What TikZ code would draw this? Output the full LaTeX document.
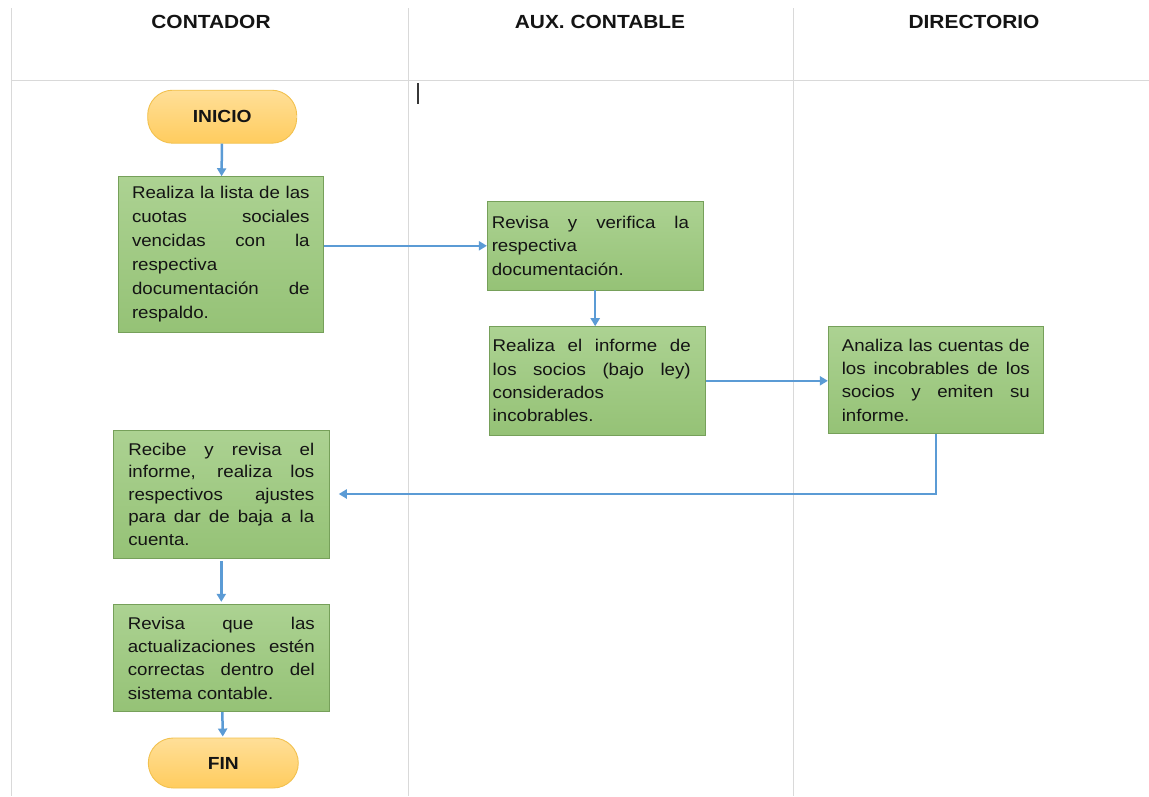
\documentclass[tikz,border=0pt]{standalone}
\usepackage{fontspec}
\setmainfont{Liberation Sans}[FakeStretch=1.10]
\usetikzlibrary{arrows.meta,calc}

\definecolor{lanegray}{HTML}{D9D9D9}
\definecolor{flowblue}{HTML}{5B9BD5}
\definecolor{greentop}{HTML}{ACD292}
\definecolor{greenbot}{HTML}{95C276}
\definecolor{greenedge}{HTML}{76A05A}
\definecolor{oratop}{HTML}{FFDF98}
\definecolor{orabot}{HTML}{FFCC5E}
\definecolor{oraedge}{HTML}{F2C14E}
\definecolor{ink}{HTML}{141414}

% one justified line of a process box
\newcommand{\jl}[1]{\makebox[\linewidth][s]{#1}\par}
% text block: width, horizontal shift, line spacing, lines
\newcommand{\boxtext}[4]{\hbox{\hspace*{#2}\parbox{#1}{\fontsize{17}{#3}\selectfont\color{ink}#4}}}

\tikzset{
  lane/.style={draw=lanegray, line width=1pt},
  header/.style={font=\fontsize{19}{21}\selectfont\bfseries, text=ink, inner sep=0pt},
  process/.style={draw=greenedge, top color=greentop, bottom color=greenbot,
    line width=0.9pt, inner sep=0pt},
  terminal/.style={draw=oraedge, top color=oratop, bottom color=orabot,
    line width=0.9pt, inner sep=0pt, rounded corners=25pt,
    font=\fontsize{17.5}{19}\selectfont\bfseries, text=ink},
  flow/.style={draw=flowblue, line width=2.5pt,
    -{Triangle[length=8pt,width=9pt]}},
}

\begin{document}
\begin{tikzpicture}[x=1pt,y=-1pt]
\useasboundingbox[fill=white] (0,0) rectangle (1149,796);

% swimlane grid
\draw[lane] (11,8) -- (11,796);
\draw[lane] (408,8) -- (408,796);
\draw[lane] (793.5,8) -- (793.5,796);
\draw[lane] (11,80) -- (1149,80);

% lane titles
\node[header] (hContador) at (211,21.5) {CONTADOR};
\node[header] (hAux) at (600,21.5) {AUX. CONTABLE};
\node[header] (hDir) at (974,21.5) {DIRECTORIO};

% text cursor mark
\draw[draw=ink!85, line width=1.4pt] (418,83) -- (418,104);

% start / end
\node[terminal, minimum width=149pt, minimum height=53pt] (inicio) at (222.2,116.7) {INICIO};
\node[terminal, minimum width=150pt, minimum height=50pt] (fin) at (223.3,763) {FIN};

% process steps
\node[process, minimum width=205pt, minimum height=155.6pt] (b1) at (220.8,254.5)
  {\boxtext{177.6pt}{0pt}{24}{%
    \jl{Realiza la lista de las}\jl{cuotas sociales}\jl{vencidas con la}%
    respectiva\par\jl{documentación de}respaldo.}};

\node[process, minimum width=215.7pt, minimum height=88.3pt] (b2) at (595.2,245.8)
  {\boxtext{197.3pt}{-9.6pt}{23.3}{%
    \jl{Revisa y verifica la}respectiva\par documentación.}};

\node[process, minimum width=215.7pt, minimum height=108.3pt] (b3) at (597.2,380.8)
  {\boxtext{198pt}{-11pt}{23.3}{%
    \jl{Realiza el informe de}\jl{los socios (bajo ley)}considerados\par incobrables.}};

\node[process, minimum width=215pt, minimum height=106.6pt] (b4) at (935.8,380)
  {\boxtext{188pt}{0pt}{23.3}{%
    \jl{Analiza las cuentas de}\jl{los incobrables de los}\jl{socios y emiten su}informe.}};

\node[process, minimum width=216pt, minimum height=128pt] (b5) at (221.3,494)
  {\boxtext{186pt}{0pt}{22.5}{%
    \jl{Recibe y revisa el}\jl{informe, realiza los}\jl{respectivos ajustes}%
    \jl{para dar de baja a la}cuenta.}};

\node[process, minimum width=216pt, minimum height=107.4pt] (b6) at (221.3,658)
  {\boxtext{187pt}{0pt}{23.3}{%
    \jl{Revisa que las}\jl{actualizaciones estén}\jl{correctas dentro del}sistema contable.}};

% connectors
\draw[flow] (inicio) -- (b1);
\draw[flow] (b1.east |- b2) -- (b2.west);
\draw[flow] (b2.south) -- (b2.south |- b3.north);
\draw[flow] (b3.east) -- (b3.east -| b4.west);
\draw[flow] (b4.south) |- ([xshift=9pt]b5.east);
\draw[flow, shorten <=3pt, shorten >=2pt] (b5) -- (b6);
\draw[flow, shorten >=1pt] (b6) -- (fin);
\end{tikzpicture}
\end{document}
